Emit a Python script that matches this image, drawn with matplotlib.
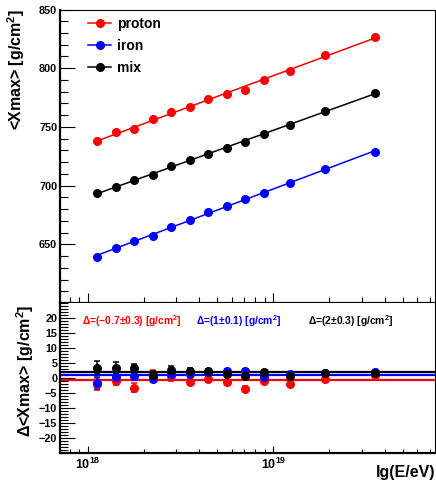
import numpy as np
import matplotlib
matplotlib.use('Agg')
import matplotlib.pyplot as plt
from matplotlib.lines import Line2D
from matplotlib.ticker import LogLocator, FixedLocator, MultipleLocator, NullFormatter, FuncFormatter

plt.rcParams['font.family'] = ['Liberation Sans', 'DejaVu Sans']
plt.rcParams['font.weight'] = 'bold'
plt.rcParams['mathtext.fontset'] = 'custom'
plt.rcParams['mathtext.rm'] = 'Liberation Sans:bold'
plt.rcParams['mathtext.bf'] = 'Liberation Sans:bold'

## energy bins, lg(E/eV)
lgE = np.array([18.05, 18.15, 18.25, 18.35, 18.45, 18.55, 18.65,
                18.75, 18.85, 18.95, 19.09, 19.28, 19.55])

## <Xmax> in g/cm^2
xmax_proton = [737.6, 745.5, 747.8, 757.1, 763.1, 766.8, 773.6,
               778.4, 781.8, 790.3, 798.0, 811.0, 827.0]
xmax_iron = [638.9, 646.6, 652.8, 657.4, 665.1, 671.1, 677.4,
             683.0, 689.0, 693.3, 702.6, 713.9, 728.5]
xmax_mix = [693.4, 699.2, 704.9, 709.2, 716.5, 721.4, 727.0,
            732.4, 737.2, 744.3, 751.7, 763.6, 779.0]

## bias Delta<Xmax> and its uncertainty
d_proton = [-2.0, -0.9, -3.3, 0.8, 0.6, -1.3, -0.3, -1.3, -3.6, -0.9, -2.0, -0.3, 1.0]
d_proton_err = [2.0, 1.5, 1.5, 1.8, 1.5, 1.0, 0.8, 0.8, 0.8, 0.8, 0.8, 0.6, 0.6]
d_iron = [-1.8, 0.2, 0.6, -0.2, 1.4, 1.3, 2.0, 2.2, 2.2, 0.2, 1.4, 1.6, 1.9]
d_iron_err = [2.0, 1.5, 1.2, 1.0, 1.0, 0.8, 0.8, 0.7, 0.7, 0.7, 0.7, 0.5, 0.5]
d_mix = [3.4, 3.5, 3.2, 1.0, 2.7, 2.2, 2.2, 1.3, 0.6, 2.0, 0.6, 1.8, 1.7]
d_mix_err = [2.2, 2.0, 1.6, 1.5, 1.2, 1.0, 0.8, 0.8, 0.8, 0.8, 0.8, 0.6, 0.6]

## mean bias and its error per sample
mean_bias = {'proton': (-0.7, 0.3), 'iron': (1, 0.1), 'mix': (2, 0.3)}

names = ['proton', 'iron', 'mix']
colors = {'proton': '#ff0000', 'iron': '#0000ff', 'mix': '#000000'}
xmax = {'proton': xmax_proton, 'iron': xmax_iron, 'mix': xmax_mix}
bias = {'proton': (d_proton, d_proton_err), 'iron': (d_iron, d_iron_err),
        'mix': (d_mix, d_mix_err)}

E = 10**lgE
W, H = 436, 492
fig = plt.figure(figsize=(W/100, H/100), dpi=100)
left, right = 60/W, 434.5/W
ax1 = fig.add_axes([left, 1-303/H, right-left, (303-9.5)/H])
ax2 = fig.add_axes([left, 1-453/H, right-left, 150/H])

ms = 5.5

## top: <Xmax> with linear fit in lgE
for n in names:
    c = colors[n]
    p = np.polyfit(lgE, xmax[n], 1)
    ax1.plot(E[[0, -1]], np.polyval(p, lgE[[0, -1]]), color=c, lw=1.1, zorder=2)
    ax1.plot(E, xmax[n], 'o', color=c, ms=ms, mec=c, zorder=3)

handles = [Line2D([], [], color=colors[n], lw=1.1, marker='o', ms=ms) for n in names]
ax1.legend(handles, names, loc='upper left', bbox_to_anchor=(0.075, 0.975),
           frameon=False, fontsize=10, handlelength=1.65, handletextpad=0.4,
           labelspacing=0.58, borderpad=0, borderaxespad=0)

## bottom: bias with mean lines
for n in names:
    m, _ = mean_bias[n]
    ax2.axhline(m, color=colors[n], lw=1.6, zorder=2)
for n in names:
    c = colors[n]
    d, de = bias[n]
    ax2.errorbar(E, d, yerr=de, fmt='o', color=c, ms=ms, elinewidth=1.1,
                 capsize=2, capthick=1.1, zorder=3)

tx = {'proton': 82, 'iron': 196, 'mix': 308}
for n in names:
    m, e = mean_bias[n]
    mtxt = f'{m:g}'.replace('-', '\u2212')
    ax2.text((tx[n]-60)/(434.5-60), 0.88, f'\u0394=({mtxt}\u00b1{e:g}) [g/cm$^{{2}}$]',
             transform=ax2.transAxes, color=colors[n], fontsize=7.4,
             fontweight='bold', ha='left', va='center')

xlo, xhi = 10**17.85, 10**19.87
for ax in (ax1, ax2):
    ax.set_xscale('log')
    ax.set_xlim(xlo, xhi)
    ax.xaxis.set_major_locator(LogLocator(base=10))
    ax.xaxis.set_minor_locator(LogLocator(base=10, subs=np.arange(2, 10)))
    ax.xaxis.set_minor_formatter(NullFormatter())
    ax.tick_params(which='both', direction='in', top=False, right=False,
                   labelsize=7.8, width=0.8, pad=2)
    ax.spines['left'].set_linewidth(1.6)
    ax.spines['bottom'].set_linewidth(1.6)
    ax.spines['top'].set_linewidth(0.8)
    ax.spines['right'].set_linewidth(0.8)

ax1.set_ylim(600, 850)
ax1.yaxis.set_major_locator(FixedLocator([650, 700, 750, 800, 850]))
ax1.yaxis.set_minor_locator(MultipleLocator(10))
ax1.tick_params(axis='x', which='major', length=7, labelbottom=False)
ax1.tick_params(axis='x', which='minor', length=4)
ax1.tick_params(axis='y', which='major', length=11)
ax1.tick_params(axis='y', which='minor', length=5.5)

ax2.set_ylim(-25, 25)
ax2.yaxis.set_major_locator(FixedLocator([-20, -15, -10, -5, 0, 5, 10, 15, 20]))
ax2.yaxis.set_minor_locator(MultipleLocator(1))
ax2.yaxis.set_major_formatter(FuncFormatter(lambda v, _: f'{v:g}'.replace('-', '\u2212')))
ax2.xaxis.set_major_formatter(FuncFormatter(
    lambda v, _: r'$\mathbf{10^{%d}}$' % round(np.log10(v))))
ax2.tick_params(axis='x', which='major', length=5, labelsize=9, pad=3)
ax2.tick_params(axis='x', which='minor', length=3)
ax2.tick_params(axis='y', which='major', length=11)
ax2.tick_params(axis='y', which='minor', length=5.5)
ax2.spines['top'].set_visible(False)

for lab in ax1.get_yticklabels() + ax2.get_yticklabels() + ax2.get_xticklabels():
    lab.set_fontweight('bold')

fig.text(16/W, 1-9/H, r'<Xmax> [g/cm$^{2}$]', rotation=90, ha='center', va='top',
         fontsize=11.5, fontweight='bold')
fig.text(25/W, 1-371/H, '\u0394<Xmax> [g/cm$^{2}$]', rotation=90, ha='center',
         va='center', fontsize=11.5, fontweight='bold')
fig.text(435/W, 1-473/H, 'lg(E/eV)', ha='right', va='center',
         fontsize=11.5, fontweight='bold')

fig.savefig('out.png', dpi=100)
